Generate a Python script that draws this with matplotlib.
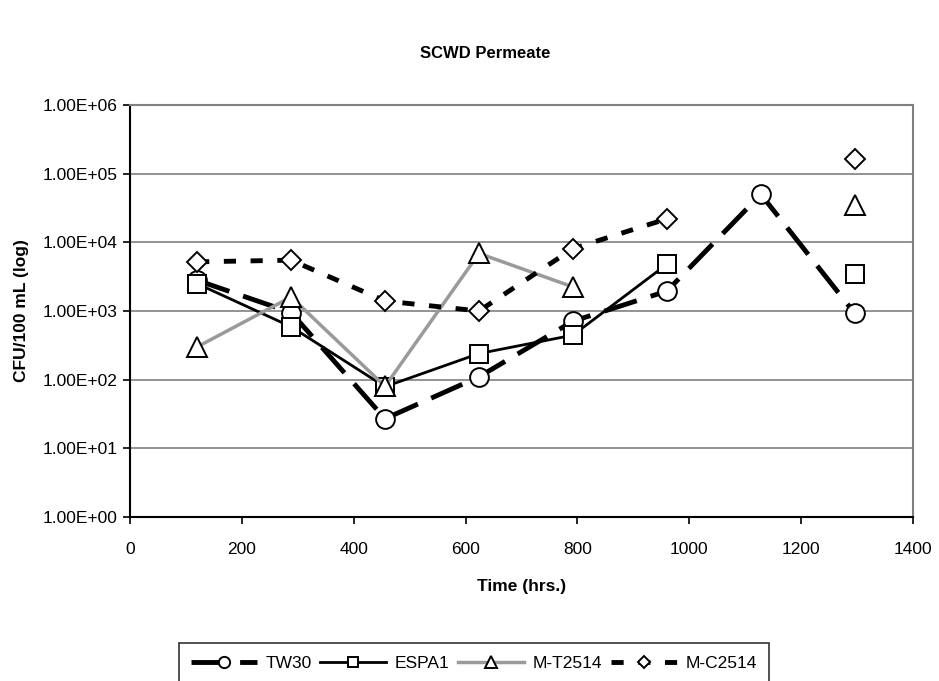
import numpy as np
import matplotlib.pyplot as plt

plt.rcParams['font.family'] = ['Liberation Sans', 'DejaVu Sans']

# sampling times (hrs.)
hours = [120, 288, 456, 624, 792, 960, 1128, 1296]

# CFU/100 mL for each membrane, nan = no sample
tw30 = [2800, 950, 27, 110, 710, 1950, 50000, 920]
espa1 = [2500, 590, 79, 240, 445, 4800, np.nan, 3500]
mt2514 = [300, 1600, 80, 6900, 2240, np.nan, np.nan, 35000]
mc2514 = [5200, 5500, 1400, 1000, 8100, 22000, np.nan, 166000]

y_ticks = [1e0, 1e1, 1e2, 1e3, 1e4, 1e5, 1e6]
y_labels = ['1.00E+00', '1.00E+01', '1.00E+02', '1.00E+03',
            '1.00E+04', '1.00E+05', '1.00E+06']

fig = plt.figure(figsize=(9.39, 6.81), dpi=100)
ax = fig.add_axes([130 / 939, 1 - 517 / 681, 783 / 939, 412 / 681])

mk = dict(markerfacecolor='white', markeredgecolor='black', markeredgewidth=1.4)

ax.plot(hours, tw30, color='black', lw=3.5, dashes=(7, 3), marker='o',
        markersize=13.5, label='TW30', zorder=3, **mk)
ax.plot(hours, espa1, color='black', lw=2, linestyle='-', marker='s',
        markersize=13, label='ESPA1', zorder=4, **mk)
ax.plot(hours, mt2514, color='#9a9a9a', lw=2.5, linestyle='-', marker='^',
        markersize=14, label='M-T2514', zorder=5, **mk)
ax.plot(hours, mc2514, color='black', lw=3.5, dashes=(2.5, 3), marker='D',
        markersize=10, label='M-C2514', zorder=6, **mk)

ax.set_yscale('log')
ax.set_ylim(1, 1e6)
ax.set_xlim(0, 1400)
ax.set_yticks(y_ticks)
ax.set_yticklabels(y_labels)
ax.yaxis.set_minor_locator(plt.NullLocator())
ax.set_xticks(range(0, 1401, 200))
ax.tick_params(direction='out', length=5, width=1.2, labelsize=12.5)
ax.tick_params(axis='x', pad=13)
ax.tick_params(axis='y', pad=4)
ax.grid(axis='y', color='#808080', lw=1.2)
ax.set_axisbelow(True)

for side in ['left', 'bottom']:
    ax.spines[side].set_color('black')
    ax.spines[side].set_linewidth(1.5)
for side in ['top', 'right']:
    ax.spines[side].set_color('#808080')
    ax.spines[side].set_linewidth(1.5)

ax.set_xlabel('Time (hrs.)', fontsize=12.5, fontweight='bold', labelpad=16)
ax.set_ylabel('CFU/100 mL (log)', fontsize=12.5, fontweight='bold', labelpad=10)
fig.text(0.517, 1 - 54 / 681, 'SCWD Permeate', ha='center', va='center',
         fontsize=12, fontweight='bold')

leg = fig.legend(loc='center', bbox_to_anchor=(474 / 939, 1 - 663 / 681),
                 ncol=4, frameon=True, fancybox=False, fontsize=12.5,
                 handlelength=3.8, columnspacing=0.5, handletextpad=0.5,
                 markerscale=0.6, borderpad=0.7)
leg.get_frame().set_edgecolor('black')
leg.get_frame().set_linewidth(1.2)

fig.savefig('out.png', dpi=100)
